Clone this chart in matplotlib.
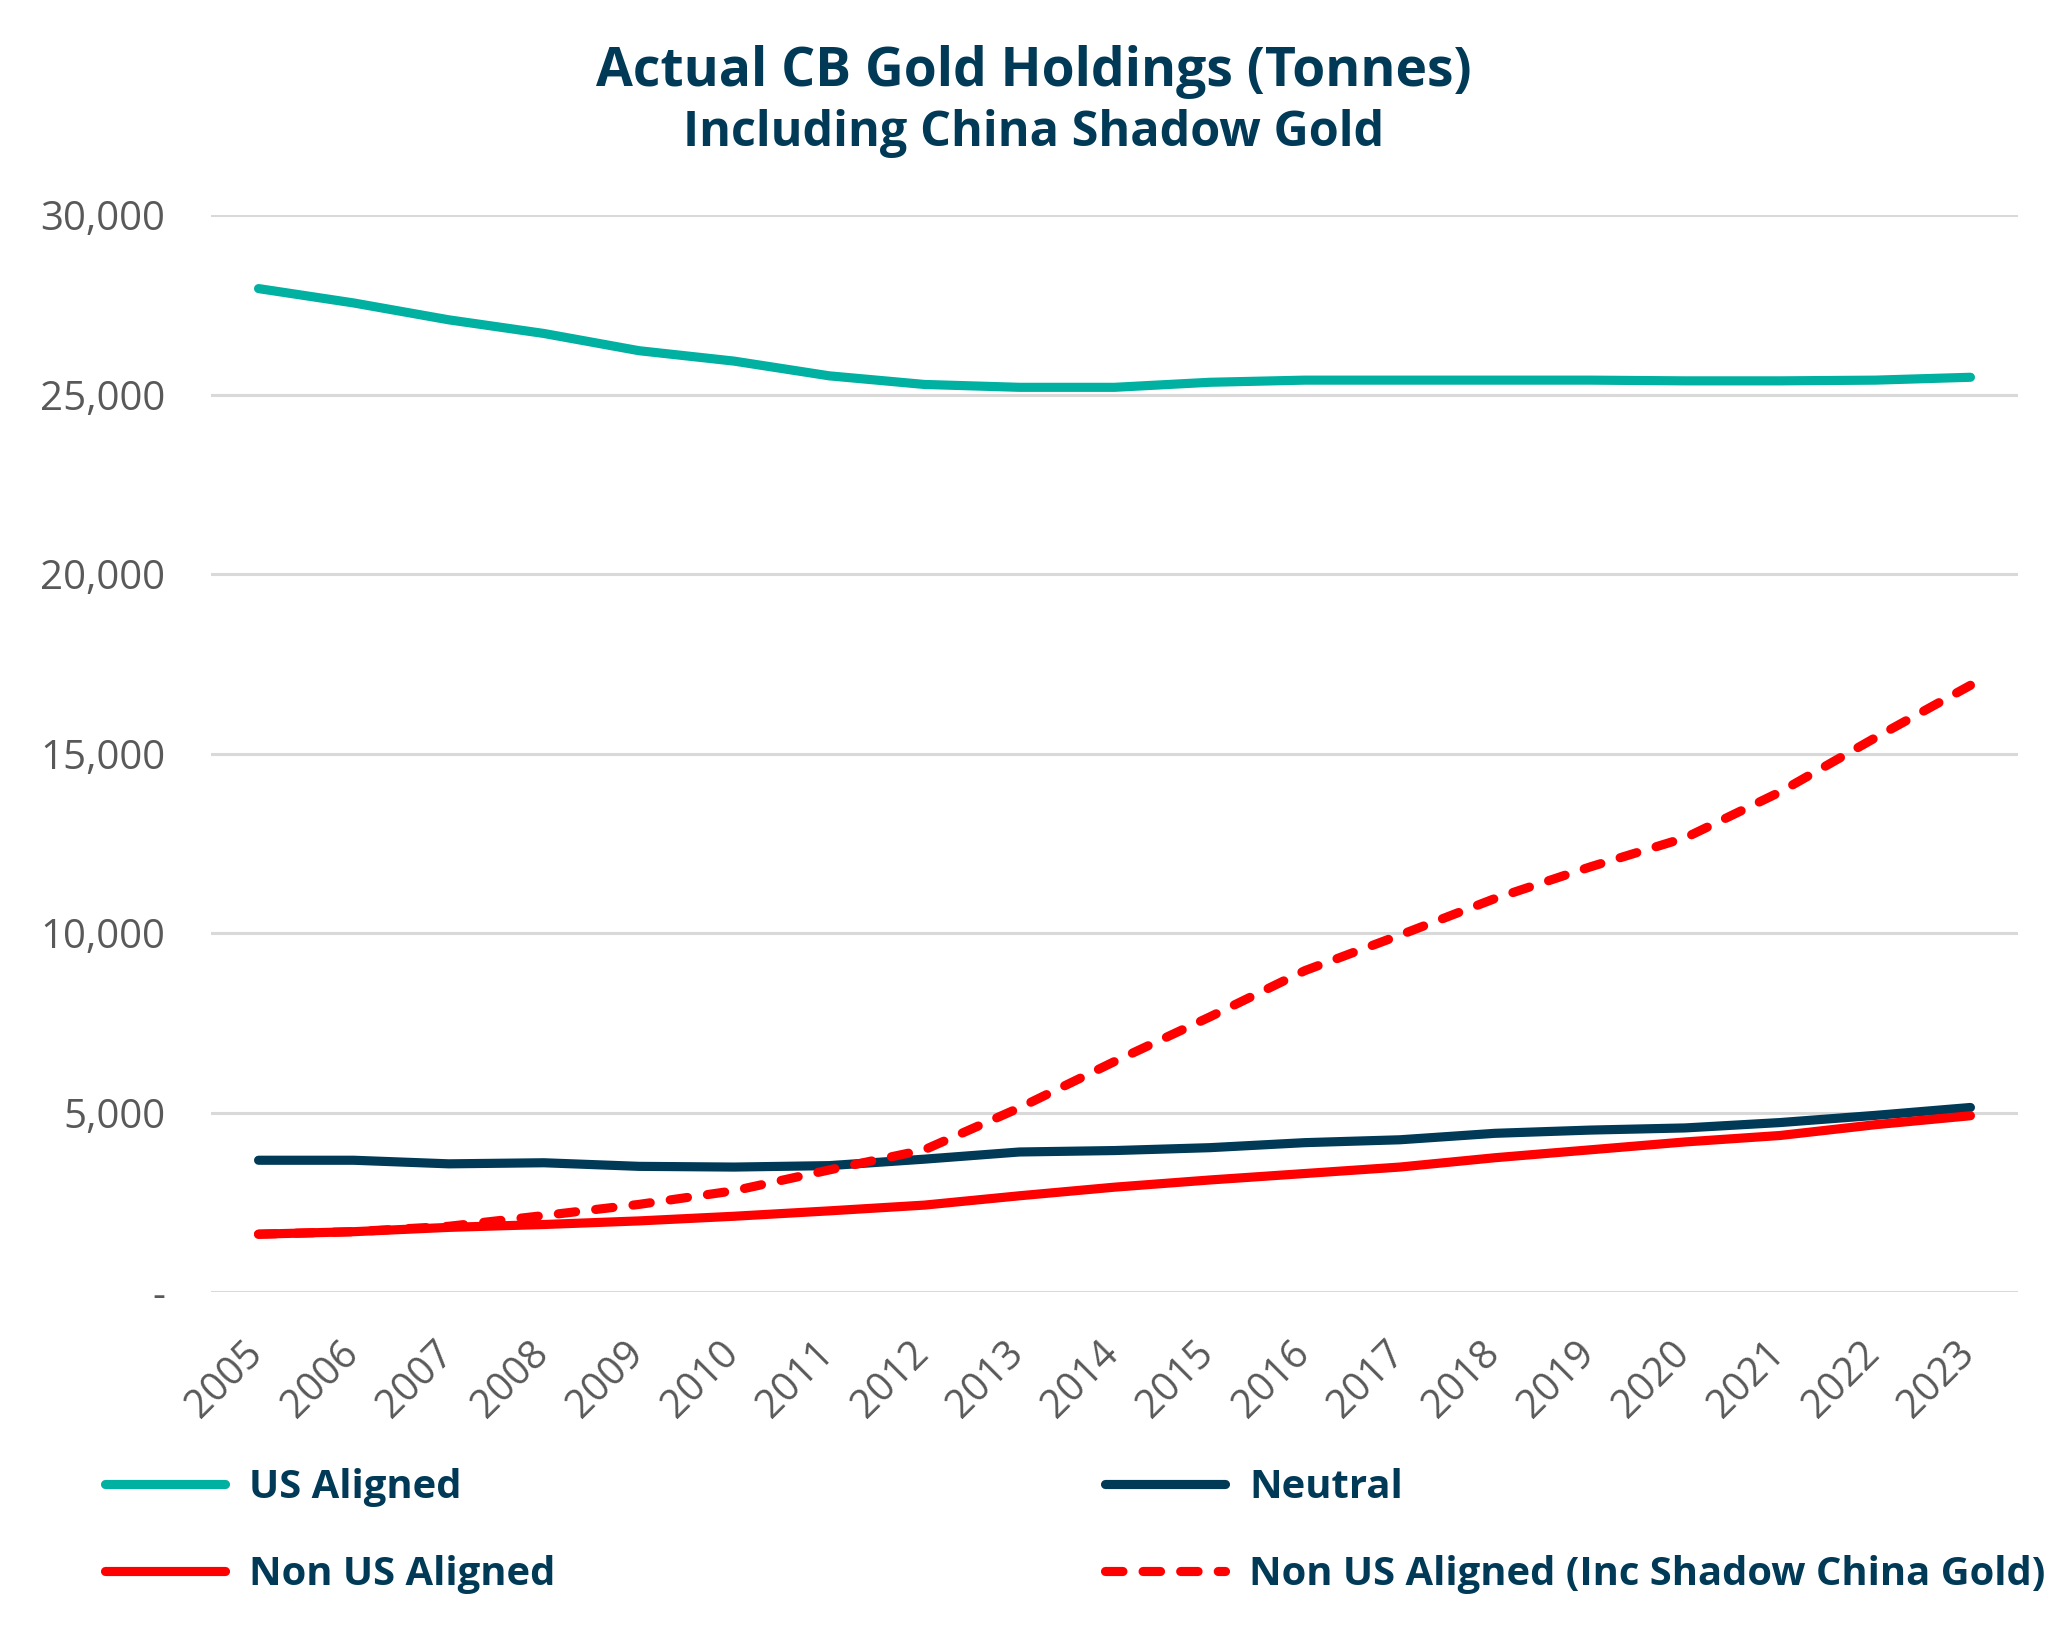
#!/usr/bin/env python3

import matplotlib

matplotlib.use("Agg")
import matplotlib.pyplot as plt
import matplotlib.transforms as mtransforms
from matplotlib.lines import Line2D

# Central bank gold holdings, tonnes
years = [str(y) for y in range(2005, 2024)]
us_aligned = [27950, 27550, 27080, 26700, 26220, 25930, 25520, 25280, 25200, 25200,
              25340, 25400, 25400, 25400, 25400, 25380, 25380, 25400, 25480]
neutral = [3670, 3670, 3570, 3600, 3500, 3480, 3520, 3700, 3900, 3940,
           4020, 4160, 4240, 4420, 4510, 4570, 4720, 4920, 5140]
non_us_aligned = [1610, 1680, 1800, 1880, 1980, 2110, 2260, 2420, 2680, 2920,
                  3120, 3300, 3480, 3740, 3960, 4180, 4360, 4660, 4910]
non_us_shadow = [1610, 1680, 1830, 2130, 2440, 2820, 3400, 3960, 5130, 6420,
                 7660, 8950, 9940, 10960, 11840, 12650, 13930, 15440, 16900]
y_ticks = [0, 5000, 10000, 15000, 20000, 25000, 30000]
y_labels = ["-", "5,000", "10,000", "15,000", "20,000", "25,000", "30,000"]

TEAL = "#00B0A0"
NAVY = "#003A57"
RED = "#FF0000"
GRAY = "#595959"
GRID = "#D9D9D9"

W, H = 2068, 1650
plt.rcParams["font.family"] = ["Open Sans", "DejaVu Sans"]

fig = plt.figure(figsize=(W / 100, H / 100), dpi=100)
ax = fig.add_axes([211 / W, 1 - 1292 / H, (2018 - 211) / W, (1292 - 215) / H])

x = list(range(len(years)))
lw = 6.6
DASH = (1.9, 2.2)
ax.plot(x, us_aligned, color=TEAL, lw=lw, solid_capstyle="round", solid_joinstyle="round")
ax.plot(x, neutral, color=NAVY, lw=lw, solid_capstyle="round", solid_joinstyle="round")
ax.plot(x, non_us_aligned, color=RED, lw=lw, solid_capstyle="round", solid_joinstyle="round")
ax.plot(x, non_us_shadow, color=RED, lw=lw, dashes=DASH,
        dash_capstyle="round", solid_joinstyle="round")

ax.set_xlim(-0.5, len(years) - 0.5)
ax.set_ylim(0, 30000)
ax.set_yticks(y_ticks)
ax.set_yticklabels(y_labels)
ax.set_xticks(x)
ax.set_xticklabels(years, rotation=45, ha="right", va="top")
ax.tick_params(axis="both", length=0, labelcolor=GRAY)
ax.tick_params(axis="y", pad=33, labelsize=29)
ax.tick_params(axis="x", pad=30, labelsize=28.5)
shift = mtransforms.ScaledTranslation(13 / 100, 0, fig.dpi_scale_trans)
for lbl in ax.get_xticklabels():
    lbl.set_transform(lbl.get_transform() + shift)
ax.grid(axis="y", color=GRID, lw=2.2)
ax.set_axisbelow(True)
for s in ax.spines.values():
    s.set_visible(False)

fig.text(0.5, 1 - 86 / H, "Actual CB Gold Holdings (Tonnes)", ha="center", va="baseline",
         fontsize=38.5, fontweight="bold", color=NAVY)
fig.text(0.5, 1 - 146 / H, "Including China Shadow Gold", ha="center", va="baseline",
         fontsize=35, fontweight="bold", color=NAVY)

def make_handle(color, dashed=False):
    if dashed:
        return Line2D([], [], color=color, lw=lw, dashes=DASH, dash_capstyle="round")
    return Line2D([], [], color=color, lw=lw, solid_capstyle="round")

legend_style = dict(frameon=False, fontsize=28.8, handlelength=3.0, handletextpad=0.6,
                    labelspacing=1.2, borderpad=0, borderaxespad=0, loc="upper left")
leg1 = fig.legend([make_handle(TEAL), make_handle(RED)], ["US Aligned", "Non US Aligned"],
                  bbox_to_anchor=(105 / W, 1 - 1468 / H), **legend_style)
leg2 = fig.legend([make_handle(NAVY), make_handle(RED, dashed=True)],
                  ["Neutral", "Non US Aligned (Inc Shadow China Gold)"],
                  bbox_to_anchor=(1105 / W, 1 - 1468 / H), **legend_style)
for leg in (leg1, leg2):
    for t in leg.get_texts():
        t.set_color(NAVY)
        t.set_fontweight("bold")

fig.savefig("out.png", dpi=100)
